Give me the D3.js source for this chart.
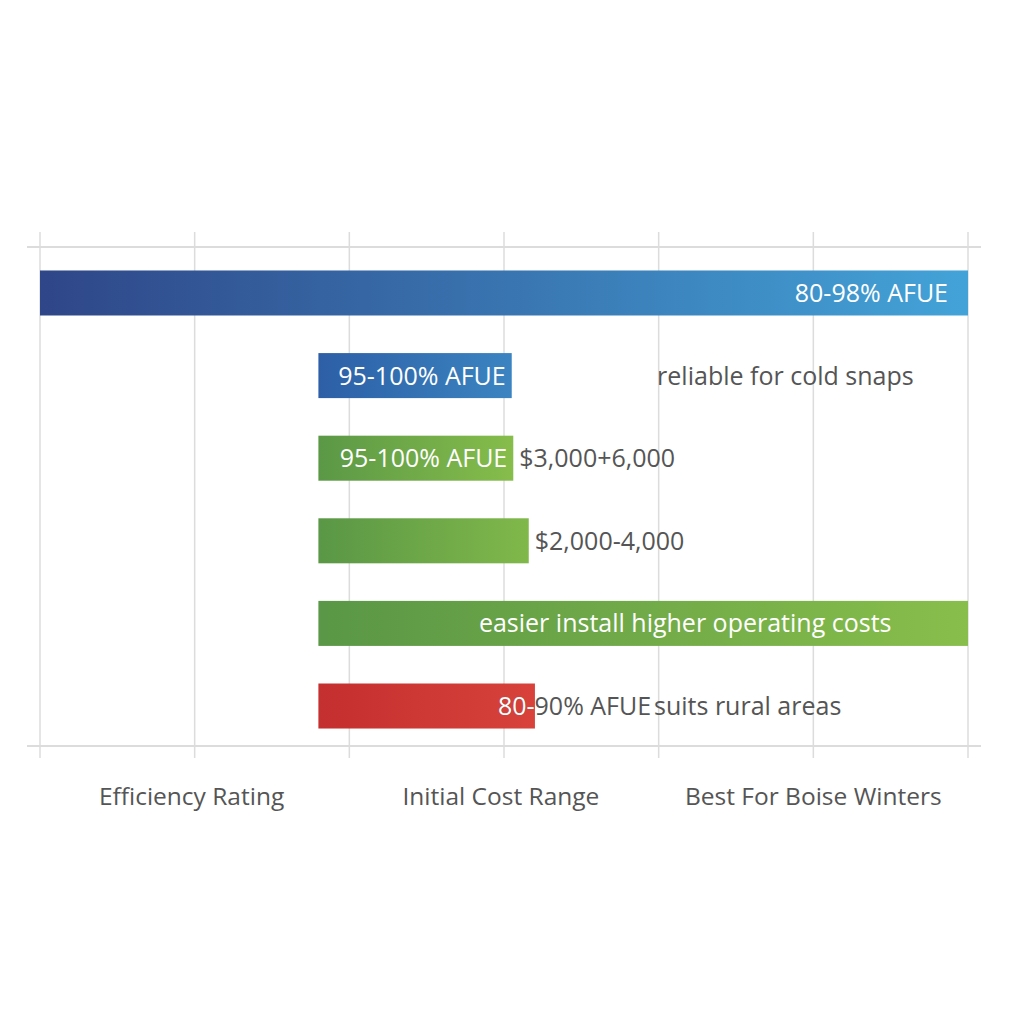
<!DOCTYPE html>
<html>
<head>
<meta charset="utf-8">
<script src="https://cdn.jsdelivr.net/npm/d3@7"></script>
<style>
  body { margin: 0; background: #ffffff; }
  svg { display: block; font-family: "Open Sans", sans-serif; }
</style>
</head>
<body>
<svg class="chart"></svg>
<script>
const size = {w: 1024, h: 1024};

// rows of the chart, top to bottom
const rows = ['r1', 'r2', 'r3', 'r4', 'r5', 'r6'];
// where each bar starts and ends (axis units, 0..6)
const barStart = [0, 1.8, 1.8, 1.8, 1.8, 1.8];
const barEnd = [6, 3.05, 3.06, 3.16, 6, 3.2];
// text drawn on the bar
const barLabels = ['80-98% AFUE', '95-100% AFUE', '95-100% AFUE', '', 'easier install higher operating costs', '80-90% AFUE'];
// gray notes next to the bars
const notes = ['', 'reliable for cold snaps', '$3,000+6,000', '$2,000-4,000', '', 'suits rural areas'];
const noteAt = [null, 3.99, null, null, null, 3.97];
// gradient colours per bar [left, right]
const barColors = [
    ['#2f4688', '#43a3d8'],
    ['#2d5fa6', '#3b84c1'],
    ['#5b9846', '#86bd4b'],
    ['#5a9746', '#80b84a'],
    ['#5a9746', '#88be4b'],
    ['#c42f2f', '#d8423b']
];
// column captions below the axis
const columns = ['Efficiency Rating', 'Initial Cost Range', 'Best For Boise Winters'];
const columnAt = [0.98, 2.98, 5];
const gridTicks = [0, 1, 2, 3, 4, 5, 6];

const svg = d3.select('svg.chart')
    .attr('width', size.w)
    .attr('height', size.h);

const x = d3.scaleLinear().domain([0, 6]).range([40, 968]);
const y = d3.scaleBand()
    .domain(rows)
    .range([249, 750])
    .paddingInner(0.455)
    .paddingOuter(0.26);

const defs = svg.append('defs');
barColors.forEach((c, i) => {
    const g = defs.append('linearGradient')
        .attr('id', 'grad' + i)
        .attr('x1', '0%').attr('x2', '100%')
        .attr('y1', '0%').attr('y2', '0%');
    g.append('stop').attr('offset', '0%').attr('stop-color', c[0]);
    g.append('stop').attr('offset', '100%').attr('stop-color', c[1]);
    // clip to the bar so labels running past the end turn gray
    defs.append('clipPath').attr('id', 'clip' + i)
        .append('rect')
        .attr('x', x(barStart[i]))
        .attr('y', y(rows[i]))
        .attr('width', x(barEnd[i]) - x(barStart[i]))
        .attr('height', y.bandwidth());
});

// --------- GRID ----------
const gridG = svg.append('g').attr('class', 'grid');
gridG.selectAll('line.v')
    .data(gridTicks)
    .join('line')
    .attr('class', 'v')
    .attr('x1', d => x(d)).attr('x2', d => x(d))
    .attr('y1', 232).attr('y2', 758)
    .attr('stroke', '#dcdcdc')
    .attr('stroke-width', 1.5);

gridG.append('line')
    .attr('x1', 27).attr('x2', 981)
    .attr('y1', 247).attr('y2', 247)
    .attr('stroke', '#dcdcdc').attr('stroke-width', 2);

// --------- BARS ----------
const barG = svg.append('g').attr('class', 'bars');
barG.selectAll('rect')
    .data(rows)
    .join('rect')
    .attr('x', (d, i) => x(barStart[i]))
    .attr('y', d => y(d))
    .attr('width', (d, i) => x(barEnd[i]) - x(barStart[i]))
    .attr('height', y.bandwidth())
    .attr('fill', (d, i) => `url(#grad${i})`);

// bottom axis line
svg.append('line')
    .attr('x1', 27).attr('x2', 981)
    .attr('y1', 746).attr('y2', 746)
    .attr('stroke', '#dcdcdc').attr('stroke-width', 2);

// --------- LABELS ----------
const labelG = svg.append('g').attr('class', 'labels')
    .style('font-size', '25px');

function labelPos(i) {
    if (i === 0) return {x: x(barEnd[i]) - 20, anchor: 'end'};
    if (i === 4) return {x: (x(barStart[i]) + x(barEnd[i])) / 2 + 42, anchor: 'middle'};
    if (i === 5) return {x: x(barEnd[i]) - 37, anchor: 'start'};
    return {x: x(barEnd[i]) - 6, anchor: 'end'};
}

rows.forEach((r, i) => {
    if (!barLabels[i]) return;
    const p = labelPos(i);
    const cy = y(r) + y.bandwidth() / 2;
    if (i === 5) {
        // gray copy underneath for the part past the bar
        labelG.append('text')
            .attr('x', p.x).attr('y', cy).attr('dy', '0.36em')
            .attr('text-anchor', p.anchor)
            .attr('fill', '#555555')
            .text(barLabels[i]);
    }
    labelG.append('text')
        .attr('x', p.x).attr('y', cy).attr('dy', '0.36em')
        .attr('text-anchor', p.anchor)
        .attr('fill', '#ffffff')
        .attr('clip-path', `url(#clip${i})`)
        .text(barLabels[i]);
});

labelG.selectAll('text.note')
    .data(rows)
    .join('text')
    .attr('class', 'note')
    .attr('x', (d, i) => noteAt[i] !== null ? x(noteAt[i]) : x(barEnd[i]) + 6)
    .attr('y', d => y(d) + y.bandwidth() / 2)
    .attr('dy', '0.36em')
    .attr('fill', '#555555')
    .text((d, i) => notes[i]);

// --------- COLUMN CAPTIONS ----------
svg.append('g')
    .selectAll('text')
    .data(columns)
    .join('text')
    .attr('x', (d, i) => x(columnAt[i]))
    .attr('y', 796)
    .attr('dy', '0.36em')
    .attr('text-anchor', 'middle')
    .attr('fill', '#555555')
    .style('font-size', '24.5px')
    .text(d => d);
</script>
</body>
</html>
